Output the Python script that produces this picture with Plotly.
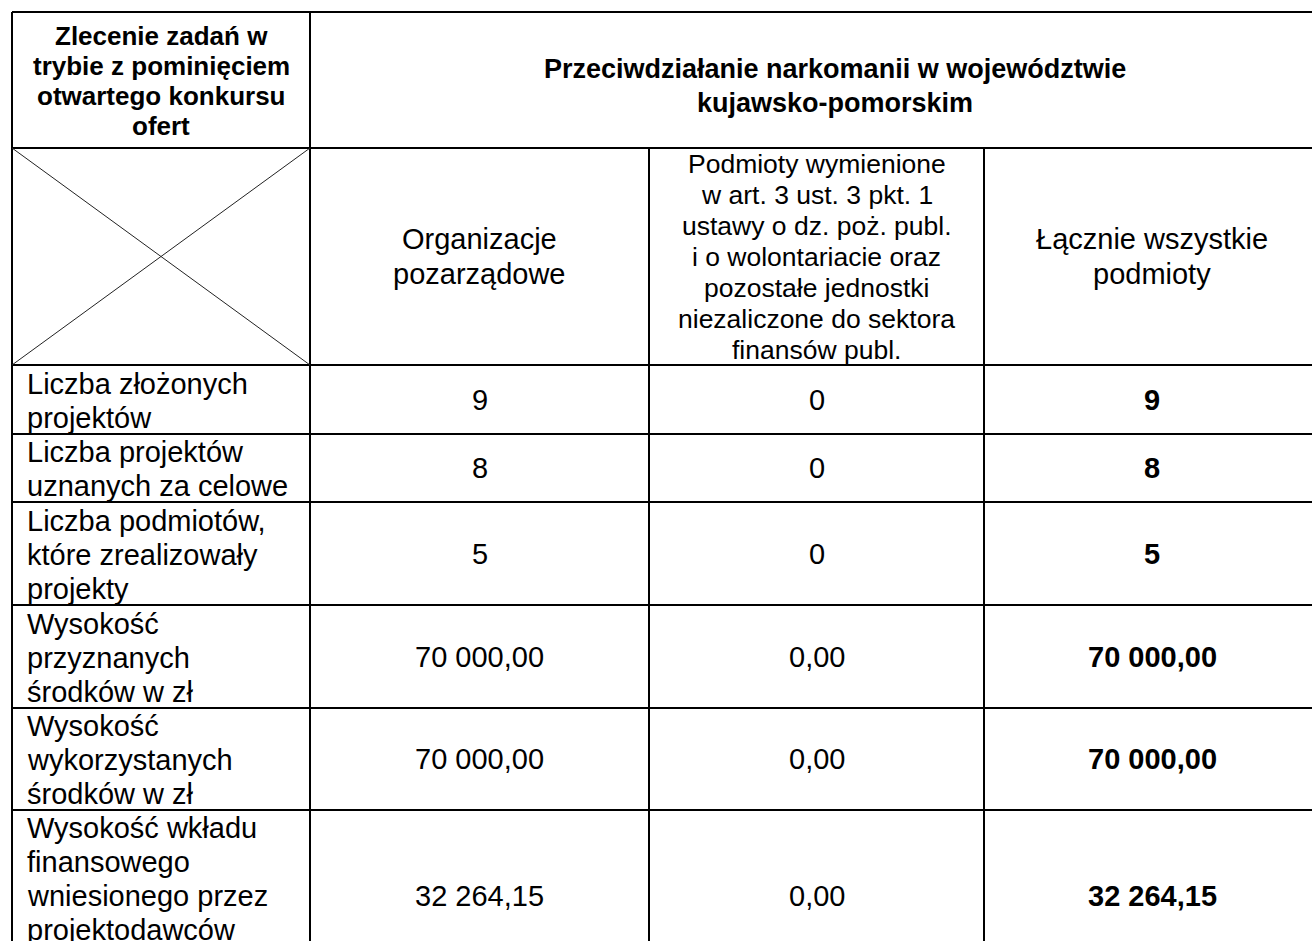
import plotly.graph_objects as go

# ---------------- data ----------------
corner_header = ["Zlecenie zadań w", "trybie z pominięciem", "otwartego konkursu", "ofert"]
title_lines = ["Przeciwdziałanie narkomanii w województwie", "kujawsko-pomorskim"]
column_headers = [
    ["Organizacje", "pozarządowe"],
    ["Podmioty wymienione", "w art. 3 ust. 3 pkt. 1", "ustawy o dz. poż. publ.",
     "i o wolontariacie oraz", "pozostałe jednostki", "niezaliczone do sektora",
     "finansów publ."],
    ["Łącznie wszystkie", "podmioty"],
]
row_labels = [
    ["Liczba złożonych", "projektów"],
    ["Liczba projektów", "uznanych za celowe"],
    ["Liczba podmiotów,", "które zrealizowały", "projekty"],
    ["Wysokość", "przyznanych", "środków w zł"],
    ["Wysokość", "wykorzystanych", "środków w zł"],
    ["Wysokość wkładu", "finansowego", "wniesionego przez", "projektodawców"],
]
is_amount = [False, False, False, True, True, True]
ngo_values = [9, 8, 5, 70000.00, 70000.00, 32264.15]
other_values = [0, 0, 0, 0.00, 0.00, 0.00]
total_values = [9, 8, 5, 70000.00, 70000.00, 32264.15]


def fmt(v, amount):
    if not amount:
        return f"{int(v)}"
    s = f"{v:,.2f}"
    return s.replace(",", " ").replace(".", ",")


# ---------------- layout geometry (page pixels) ----------------
W, H = 1312, 941
col_edges = [12, 310, 649, 984, 1320]
row_edges = [12, 148, 365, 434, 502, 605, 708, 810, 986]
FONT = "Liberation Sans, Arial, Helvetica, sans-serif"

fig = go.Figure()
fig.add_trace(go.Scatter(x=[0, W], y=[0, H], mode="markers",
                         marker=dict(opacity=0), hoverinfo="skip", showlegend=False))

shapes = []
LW = 2


def hline(y, x0, x1, w=LW):
    shapes.append(dict(type="line", xref="x", yref="y", x0=x0, x1=x1, y0=y, y1=y,
                       line=dict(color="black", width=w)))


def vline(x, y0, y1, w=LW):
    shapes.append(dict(type="line", xref="x", yref="y", x0=x, x1=x, y0=y0, y1=y1,
                       line=dict(color="black", width=w)))


bottom = row_edges[-1]
for y in row_edges:
    hline(y, col_edges[0], col_edges[-1])
vline(col_edges[0], row_edges[0], bottom)
vline(col_edges[1], row_edges[0], bottom)
vline(col_edges[2], row_edges[1], bottom)
vline(col_edges[3], row_edges[1], bottom)
vline(col_edges[4], row_edges[0], bottom)
# diagonal cross in the corner cell
shapes.append(dict(type="line", xref="x", yref="y", x0=col_edges[0], y0=row_edges[1],
                   x1=col_edges[1], y1=row_edges[2], line=dict(color="#222", width=1)))
shapes.append(dict(type="line", xref="x", yref="y", x0=col_edges[0], y0=row_edges[2],
                   x1=col_edges[1], y1=row_edges[1], line=dict(color="#222", width=1)))

annotations = []


def lines_at(lines, xc, yc, pitch, size, bold=False, xanchor="center"):
    n = len(lines)
    y0 = yc - pitch * (n - 1) / 2
    for i, t in enumerate(lines):
        txt = f"<b>{t}</b>" if bold else t
        annotations.append(dict(x=xc, y=y0 + i * pitch, xref="x", yref="y", text=txt,
                                showarrow=False, xanchor=xanchor, yanchor="middle",
                                font=dict(family=FONT, size=size, color="black")))


def cx(i):
    return (col_edges[i] + col_edges[i + 1]) / 2


def cy(j):
    return (row_edges[j] + row_edges[j + 1]) / 2


# header row
lines_at(corner_header, cx(0), cy(0) + 1, 30, 26, bold=True)
lines_at(title_lines, 835, cy(0) + 6, 34, 27, bold=True)
# second header row
lines_at(column_headers[0], cx(1), cy(1), 35, 29)
lines_at(column_headers[1], cx(2), cy(1), 31, 26.5)
lines_at(column_headers[2], cx(3), cy(1), 35, 29)

# body rows
for k in range(len(row_labels)):
    j = k + 2
    lab = row_labels[k]
    if k == len(row_labels) - 1:
        ytop = row_edges[j] + 18
        yc_lab = ytop + 34 * (len(lab) - 1) / 2
        yc_val = ytop + 34 * 2
    else:
        yc_lab = cy(j) + 1
        yc_val = cy(j)
    lines_at(lab, 25, yc_lab, 34, 29, xanchor="left")
    lines_at([fmt(ngo_values[k], is_amount[k])], cx(1), yc_val, 34, 29)
    lines_at([fmt(other_values[k], is_amount[k])], cx(2), yc_val, 34, 29)
    lines_at([fmt(total_values[k], is_amount[k])], cx(3), yc_val, 34, 29, bold=True)

fig.update_layout(
    width=W, height=H,
    margin=dict(l=0, r=0, t=0, b=0),
    paper_bgcolor="white", plot_bgcolor="white",
    xaxis=dict(range=[0, W], visible=False, fixedrange=True),
    yaxis=dict(range=[H, 0], visible=False, fixedrange=True),
    shapes=shapes, annotations=annotations, showlegend=False,
)

fig.write_html("out.html", config={"displayModeBar": False, "staticPlot": True},
               post_script="document.body.style.margin='0';")
